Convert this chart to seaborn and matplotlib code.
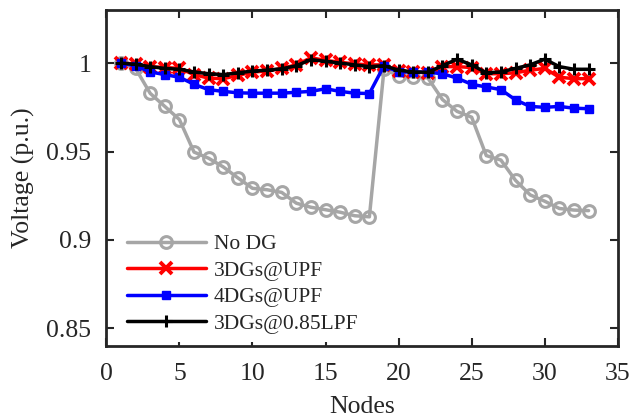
import matplotlib
matplotlib.use("Agg")
from matplotlib import pyplot as plt
from matplotlib.ticker import FuncFormatter, MultipleLocator
import pandas as pd
import seaborn as sns

nodes = list(range(1, 34))

no_dg = [1.0000, 0.9970, 0.9829, 0.9755, 0.9681, 0.9497, 0.9462, 0.9413, 0.9351, 0.9292,
         0.9284, 0.9269, 0.9208, 0.9185, 0.9171, 0.9157, 0.9137, 0.9131, 0.9965, 0.9929,
         0.9922, 0.9916, 0.9794, 0.9727, 0.9694, 0.9477, 0.9452, 0.9337, 0.9255, 0.9219,
         0.9178, 0.9169, 0.9166]
dg3_upf = [1.0000, 0.9995, 0.9980, 0.9975, 0.9970, 0.9935, 0.9915, 0.9912, 0.9930, 0.9950,
           0.9955, 0.9970, 0.9990, 1.0030, 1.0015, 1.0005, 0.9995, 0.9990, 0.9990, 0.9955,
           0.9950, 0.9945, 0.9980, 0.9980, 0.9975, 0.9940, 0.9940, 0.9945, 0.9960, 0.9970,
           0.9920, 0.9912, 0.9912]
dg4_upf = [1.0000, 0.9985, 0.9950, 0.9935, 0.9920, 0.9880, 0.9850, 0.9840, 0.9832, 0.9830,
           0.9830, 0.9830, 0.9835, 0.9840, 0.9855, 0.9840, 0.9830, 0.9828, 0.9985, 0.9950,
           0.9950, 0.9948, 0.9940, 0.9915, 0.9880, 0.9865, 0.9850, 0.9792, 0.9755, 0.9750,
           0.9755, 0.9745, 0.9742]
dg3_lpf = [1.0000, 0.9993, 0.9980, 0.9970, 0.9965, 0.9950, 0.9940, 0.9935, 0.9945, 0.9955,
           0.9960, 0.9968, 0.9985, 1.0020, 1.0010, 1.0000, 0.9990, 0.9980, 0.9985, 0.9960,
           0.9950, 0.9948, 0.9985, 1.0022, 0.9990, 0.9945, 0.9950, 0.9970, 0.9990, 1.0022,
           0.9980, 0.9965, 0.9965]

df = pd.DataFrame({"Nodes": nodes, "No DG": no_dg, "3DGs@UPF": dg3_upf,
                   "4DGs@UPF": dg4_upf, "3DGs@0.85LPF": dg3_lpf})

sns.set_theme(style="ticks")
plt.rcParams["font.family"] = ["Liberation Serif", "DejaVu Serif"]

fig = plt.figure(figsize=(6.33, 4.18), dpi=100)
ax = fig.add_axes([0.168, 0.172, 0.808, 0.804])

sns.lineplot(data=df, x="Nodes", y="No DG", ax=ax, color="#a6a6a6", lw=2.5,
             marker="o", markersize=8.5, mfc="none", mec="#a6a6a6", mew=2.2, label="No DG")
sns.lineplot(data=df, x="Nodes", y="3DGs@UPF", ax=ax, color="red", lw=2.5,
             marker="x", markersize=8, mec="red", mew=2.8, label="3DGs@UPF")
sns.lineplot(data=df, x="Nodes", y="4DGs@UPF", ax=ax, color="blue", lw=2.5,
             marker="s", markersize=6, mfc="blue", mec="blue", mew=1, label="4DGs@UPF")
sns.lineplot(data=df, x="Nodes", y="3DGs@0.85LPF", ax=ax, color="black", lw=2.5,
             marker="+", markersize=8, mec="black", mew=2.2, label="3DGs@0.85LPF")

ax.set_xlim(0, 35)
ax.set_ylim(0.84, 1.03)
ax.xaxis.set_major_locator(MultipleLocator(5))
ax.yaxis.set_major_locator(MultipleLocator(0.05))
ax.yaxis.set_major_formatter(FuncFormatter(lambda v, p: f"{v:g}"))
ax.set_xlabel("Nodes", fontsize=18.5, labelpad=8)
ax.set_ylabel("Voltage (p.u.)", fontsize=18.5, labelpad=8)
ax.tick_params(direction="in", length=6, width=1.5, labelsize=18.5, top=True, right=True)
ax.tick_params(axis="x", pad=12)
ax.tick_params(axis="y", pad=11)
for s in ax.spines.values():
    s.set_linewidth(2)
    s.set_color("#262626")

leg = ax.legend(loc="lower left", bbox_to_anchor=(0.01, -0.008), fontsize=15.5,
                handlelength=3.7, frameon=True, framealpha=1, edgecolor="none",
                borderaxespad=0.3, labelspacing=0.3, handletextpad=0.35)
leg.get_frame().set_boxstyle("square", pad=0)

fig.savefig("out.png", dpi=100)
